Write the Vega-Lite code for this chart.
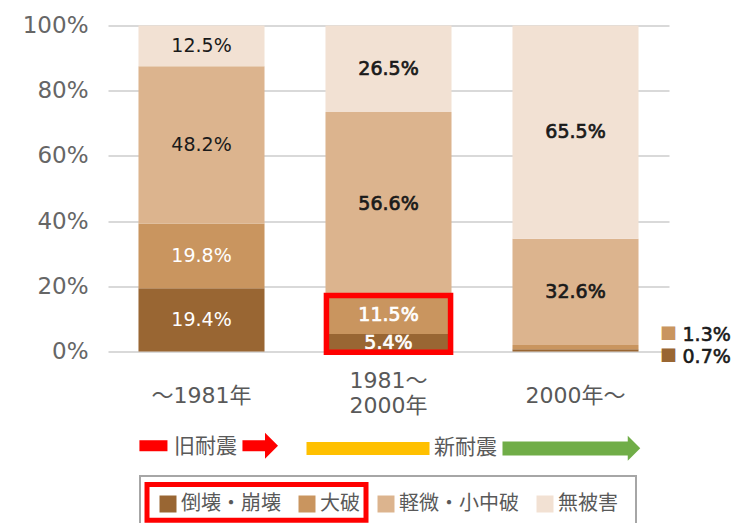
{
  "$schema": "https://vega.github.io/schema/vega-lite/v6.json",
  "padding": {"left": 22, "top": 14.5, "right": 0, "bottom": 0},
  "autosize": {"type": "pad"},
  "spacing": 76,
  "bounds": "flush",
  "config": {"view": {"stroke": null}},
  "vconcat": [
    {
      "width": 561,
      "height": 326,
      "data": {
        "values": [
          {"category": "～1981年", "series": "倒壊・崩壊", "order": 1, "value": 19.4},
          {"category": "～1981年", "series": "大破", "order": 2, "value": 19.8},
          {"category": "～1981年", "series": "軽微・小中破", "order": 3, "value": 48.2},
          {"category": "～1981年", "series": "無被害", "order": 4, "value": 12.5},
          {"category": "1981～\n2000年", "series": "倒壊・崩壊", "order": 1, "value": 5.4},
          {"category": "1981～\n2000年", "series": "大破", "order": 2, "value": 11.5},
          {"category": "1981～\n2000年", "series": "軽微・小中破", "order": 3, "value": 56.6},
          {"category": "1981～\n2000年", "series": "無被害", "order": 4, "value": 26.5},
          {"category": "2000年～", "series": "倒壊・崩壊", "order": 1, "value": 0.7},
          {"category": "2000年～", "series": "大破", "order": 2, "value": 1.3},
          {"category": "2000年～", "series": "軽微・小中破", "order": 3, "value": 32.6},
          {"category": "2000年～", "series": "無被害", "order": 4, "value": 65.5}
        ]
      },
      "transform": [
        {"stack": "value", "groupby": ["category"], "sort": [{"field": "order", "order": "ascending"}], "offset": "normalize", "as": ["y0", "y1"]},
        {"calculate": "(datum.y0 + datum.y1) / 2", "as": "ymid"},
        {"calculate": "format(datum.value, '.1f') + '%'", "as": "label"}
      ],
      "encoding": {
        "x": {
          "field": "category",
          "type": "nominal",
          "sort": ["～1981年", "1981～\n2000年", "2000年～"],
          "scale": {"paddingInner": 0.326, "paddingOuter": 0.163},
          "axis": null
        }
      },
      "layer": [
        {
          "mark": {"type": "bar"},
          "encoding": {
            "y": {
              "field": "y0",
              "type": "quantitative",
              "scale": {"domain": [0, 1]},
              "axis": {
                "title": null,
                "values": [0, 0.2, 0.4, 0.6, 0.8, 1],
                "format": ".0%",
                "domain": false,
                "ticks": false,
                "labelPadding": 20,
                "labelFontSize": 23,
                "labelColor": "#666666",
                "labelFont": "DejaVu Sans",
                "gridColor": "#D9D9D9",
                "gridWidth": 2
              }
            },
            "y2": {"field": "y1"},
            "color": {
              "field": "series",
              "type": "nominal",
              "scale": {
                "domain": ["倒壊・崩壊", "大破", "軽微・小中破", "無被害"],
                "range": ["#996633", "#C9955F", "#DCB48E", "#F2E1D3"]
              },
              "legend": {
                "title": null,
                "orient": "none",
                "legendX": 32,
                "legendY": 450.5,
                "direction": "horizontal",
                "columns": 4,
                "symbolType": "square",
                "symbolSize": 289,
                "symbolStrokeWidth": 0,
                "symbolOpacity": 1,
                "labelFontSize": 20,
                "labelFont": "Noto Sans CJK JP",
                "labelColor": "#595959",
                "labelOffset": 3,
                "columnPadding": 16,
                "padding": 18,
                "strokeColor": "#A6A6A6",
                "encode": {"legend": {"update": {"strokeWidth": {"value": 2}}}}
              }
            }
          }
        },
        {
          "transform": [{"filter": "datum.order == 1 && datum.category != '1981～\\n2000年'"}],
          "mark": {"type": "text", "font": "DejaVu Sans, Noto Sans CJK JP", "fontSize": 22, "color": "#595959", "baseline": "middle", "align": "center"},
          "encoding": {
            "y": {"datum": -0.135, "type": "quantitative"},
            "text": {"field": "category"}
          }
        },
        {
          "transform": [{"filter": "datum.order == 1 && datum.category == '1981～\\n2000年'"}],
          "mark": {"type": "text", "font": "DejaVu Sans, Noto Sans CJK JP", "fontSize": 22, "color": "#595959", "baseline": "middle", "align": "center", "lineBreak": "\n", "lineHeight": 25},
          "encoding": {
            "y": {"datum": -0.092, "type": "quantitative"},
            "text": {"field": "category"}
          }
        },
        {
          "transform": [{"filter": "datum.category == '～1981年'"}],
          "mark": {"type": "text", "font": "DejaVu Sans", "fontSize": 19, "baseline": "middle"},
          "encoding": {
            "y": {"field": "ymid", "type": "quantitative"},
            "text": {"field": "label"},
            "color": {"condition": {"test": "datum.order <= 2", "value": "#FFFFFF"}, "value": "#1A1A1A"}
          }
        },
        {
          "transform": [{"filter": "datum.category != '～1981年' && datum.value >= 3"}],
          "mark": {"type": "text", "font": "DejaVu Sans", "fontSize": 19, "baseline": "middle", "strokeWidth": 0.7},
          "encoding": {
            "y": {"field": "ymid", "type": "quantitative"},
            "text": {"field": "label"},
            "color": {"condition": {"test": "datum.order <= 2", "value": "#FFFFFF"}, "value": "#1A1A1A"},
            "stroke": {"condition": {"test": "datum.order <= 2", "value": "#FFFFFF"}, "value": "#1A1A1A"}
          }
        },
        {
          "transform": [{"filter": "datum.category == '2000年～' && datum.series == '大破'"}],
          "mark": {"type": "text", "font": "Noto Sans CJK JP", "fontSize": 17, "baseline": "middle", "align": "center", "dx": 93, "dy": -12.6, "color": "#C9955F"},
          "encoding": {
            "y": {"field": "ymid", "type": "quantitative"},
            "text": {"value": "■"}
          }
        },
        {
          "transform": [{"filter": "datum.category == '2000年～' && datum.series == '倒壊・崩壊'"}],
          "mark": {"type": "text", "font": "Noto Sans CJK JP", "fontSize": 17, "baseline": "middle", "align": "center", "dx": 93, "dy": 7, "color": "#996633"},
          "encoding": {
            "y": {"field": "ymid", "type": "quantitative"},
            "text": {"value": "■"}
          }
        },
        {
          "transform": [{"filter": "datum.category == '2000年～' && datum.series == '大破'"}],
          "mark": {"type": "text", "font": "DejaVu Sans", "fontSize": 19, "baseline": "middle", "align": "left", "dx": 107, "dy": -12.6, "color": "#1A1A1A", "stroke": "#1A1A1A", "strokeWidth": 0.6},
          "encoding": {
            "y": {"field": "ymid", "type": "quantitative"},
            "text": {"field": "label"}
          }
        },
        {
          "transform": [{"filter": "datum.category == '2000年～' && datum.series == '倒壊・崩壊'"}],
          "mark": {"type": "text", "font": "DejaVu Sans", "fontSize": 19, "baseline": "middle", "align": "left", "dx": 107, "dy": 7, "color": "#1A1A1A", "stroke": "#1A1A1A", "strokeWidth": 0.6},
          "encoding": {
            "y": {"field": "ymid", "type": "quantitative"},
            "text": {"field": "label"}
          }
        },
        {
          "data": {"values": [{"category": "1981～\n2000年"}]},
          "mark": {"type": "bar", "fill": null, "fillOpacity": 0, "stroke": "#FF0000", "strokeWidth": 5.5, "width": {"band": 0.985}},
          "encoding": {
            "x": {"field": "category", "type": "nominal"},
            "y": {"datum": -0.002, "type": "quantitative"},
            "y2": {"datum": 0.172}
          }
        }
      ]
    },
    {
      "width": 561,
      "height": 96,
      "data": {"values": [{}]},
      "layer": [
        {
          "mark": {"type": "rule", "color": "#FF0000", "strokeWidth": 11},
          "encoding": {
            "x": {"datum": 0.168, "type": "quantitative", "scale": {"domain": [0, 3]}, "axis": null},
            "x2": {"datum": 0.318},
            "y": {"datum": 81, "type": "quantitative", "scale": {"domain": [0, 96]}, "axis": null}
          }
        },
        {
          "mark": {"type": "rule", "color": "#FF0000", "strokeWidth": 11},
          "encoding": {
            "x": {"datum": 0.719, "type": "quantitative"},
            "x2": {"datum": 0.84},
            "y": {"datum": 81, "type": "quantitative"}
          }
        },
        {
          "mark": {"type": "point", "shape": "M-0.5,-1L0.5,0L-0.5,1Z", "filled": true, "color": "#FF0000", "opacity": 1, "size": 676},
          "encoding": {
            "x": {"datum": 0.8743, "type": "quantitative"},
            "y": {"datum": 81, "type": "quantitative"}
          }
        },
        {
          "mark": {"type": "text", "text": "旧耐震", "font": "Noto Sans CJK JP", "fontSize": 21, "color": "#595959", "baseline": "middle", "align": "center"},
          "encoding": {
            "x": {"datum": 0.521, "type": "quantitative"},
            "y": {"datum": 80, "type": "quantitative"}
          }
        },
        {
          "mark": {"type": "rule", "color": "#FFC000", "strokeWidth": 13},
          "encoding": {
            "x": {"datum": 1.0615, "type": "quantitative"},
            "x2": {"datum": 1.7193},
            "y": {"datum": 78, "type": "quantitative"}
          }
        },
        {
          "mark": {"type": "text", "text": "新耐震", "font": "Noto Sans CJK JP", "fontSize": 21, "color": "#595959", "baseline": "middle", "align": "center"},
          "encoding": {
            "x": {"datum": 1.9118, "type": "quantitative"},
            "y": {"datum": 79, "type": "quantitative"}
          }
        },
        {
          "mark": {"type": "rule", "color": "#70AD47", "strokeWidth": 14},
          "encoding": {
            "x": {"datum": 2.1096, "type": "quantitative"},
            "x2": {"datum": 2.781},
            "y": {"datum": 78, "type": "quantitative"}
          }
        },
        {
          "mark": {"type": "point", "shape": "M-0.5,-1L0.5,0L-0.5,1Z", "filled": true, "color": "#70AD47", "opacity": 1, "size": 625},
          "encoding": {
            "x": {"datum": 2.8128, "type": "quantitative"},
            "y": {"datum": 78.5, "type": "quantitative"}
          }
        },
        {
          "mark": {"type": "rect", "fill": null, "fillOpacity": 0, "stroke": "#FF0000", "strokeWidth": 5},
          "encoding": {
            "x": {"datum": 0.2086, "type": "quantitative"},
            "x2": {"datum": 1.3797},
            "y": {"datum": 40.5, "type": "quantitative"},
            "y2": {"datum": 3.5}
          }
        }
      ]
    }
  ]
}
